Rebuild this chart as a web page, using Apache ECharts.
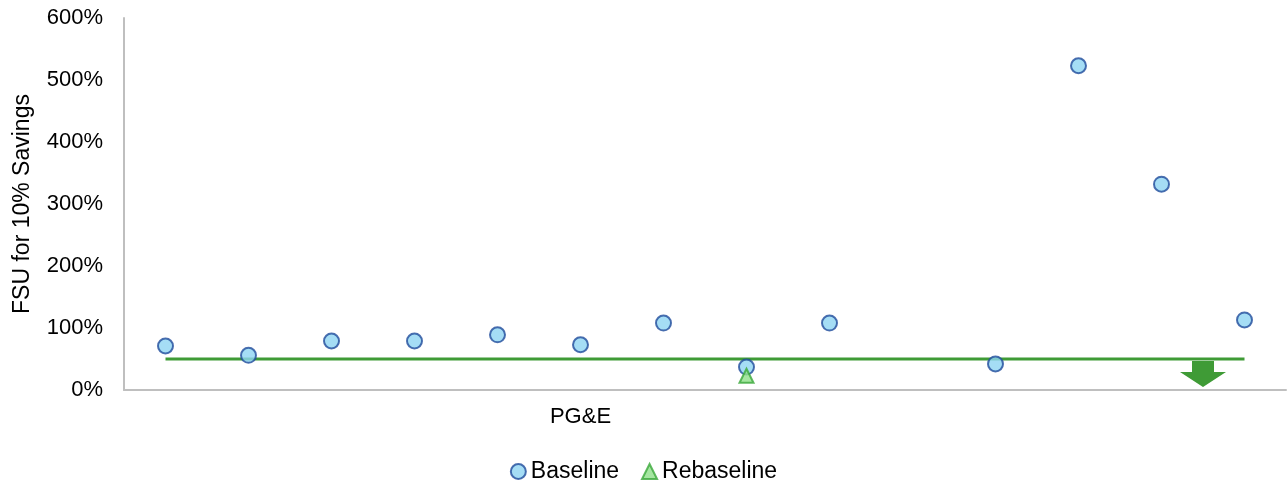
<!DOCTYPE html>
<html>
<head>
<meta charset="utf-8">
<script src="https://cdn.jsdelivr.net/npm/echarts@6/dist/echarts.min.js"></script>
<style>html,body{margin:0;padding:0;background:#fff;}#c{width:1287px;height:482px;}</style>
</head>
<body>
<div id="c"></div>
<script>
// Data
var categories = ['s1','s2','s3','s4','s5','s6','s7','s8','s9','s10','s11','s12','s13','s14'];
var categoryLabels = ['', '', '', '', '', 'PG&E', '', '', '', '', '', '', '', ''];
var baseline = [71, 56, 79, 79, 89, 73, 108, 37, 108, null, 42, 523, 332, 113];
var rebaseline = [null, null, null, null, null, null, null, 23, null, null, null, null, null, null];
var threshold = 50;
var arrowSlot = 12; // arrow drawn between slot 12 and 13
var yTicks = [0, 100, 200, 300, 400, 500, 600];

var chart = echarts.init(document.getElementById('c'));
var font = 'Arial, "Liberation Sans", sans-serif';

var option = {
  animation: false,
  backgroundColor: '#ffffff',
  grid: { left: 124, right: 1, top: 18, bottom: 92 },
  legend: {
    top: 455,
    left: 'center',
    itemGap: 22,
    itemWidth: 15,
    itemHeight: 15,
    textStyle: { fontFamily: font, fontSize: 23, color: '#000' },
    data: ['Baseline', 'Rebaseline']
  },
  xAxis: {
    type: 'category',
    data: categories,
    boundaryGap: true,
    axisLine: { lineStyle: { color: '#bfbfbf', width: 2 } },
    axisTick: { show: false },
    splitLine: { show: false },
    axisLabel: {
      interval: 0,
      margin: 16,
      fontFamily: font, fontSize: 22, color: '#000',
      formatter: function (v, i) { return categoryLabels[i]; }
    }
  },
  yAxis: {
    type: 'value',
    min: yTicks[0],
    max: yTicks[yTicks.length - 1],
    interval: 100,
    name: 'FSU for 10% Savings',
    nameLocation: 'middle',
    nameGap: 90,
    nameTextStyle: { fontFamily: font, fontSize: 23, color: '#000' },
    axisLine: { show: true, lineStyle: { color: '#bfbfbf', width: 2 } },
    axisTick: { show: false },
    splitLine: { show: false },
    axisLabel: {
      margin: 21,
      fontFamily: font, fontSize: 22, color: '#000',
      formatter: function (v) { return v + '%'; }
    }
  },
  series: [
    {
      name: 'Threshold',
      type: 'line',
      data: [[0, threshold], [categories.length - 1, threshold]],
      symbol: 'none',
      lineStyle: { color: '#3f9b36', width: 3 },
      z: 1,
      silent: true
    },
    {
      name: 'Arrow',
      type: 'custom',
      data: [[arrowSlot, threshold]],
      z: 2,
      renderItem: function (params, api) {
        var p = api.coord([api.value(0), api.value(1)]);
        var band = api.size([1, 0])[0];
        var cx = p[0] + band / 2;
        var top = p[1] + 2;
        var sw = 11, hw = 23, shaftH = 11, headH = 15;
        return {
          type: 'polygon',
          shape: {
            points: [
              [cx - sw, top], [cx + sw, top], [cx + sw, top + shaftH],
              [cx + hw, top + shaftH], [cx, top + shaftH + headH],
              [cx - hw, top + shaftH], [cx - sw, top + shaftH]
            ]
          },
          style: { fill: '#3f9b36' }
        };
      }
    },
    {
      name: 'Rebaseline',
      type: 'scatter',
      data: rebaseline,
      symbol: 'triangle',
      symbolSize: 14,
      itemStyle: { color: '#8fe08a', borderColor: '#3aa83a', borderWidth: 2 },
      z: 4
    },
    {
      name: 'Baseline',
      type: 'scatter',
      data: baseline,
      symbol: 'circle',
      symbolSize: 15,
      itemStyle: { color: '#8fd4f2', borderColor: '#1f4b9b', borderWidth: 2 },
      z: 3
    }
  ]
};
chart.setOption(option);
</script>
</body>
</html>
